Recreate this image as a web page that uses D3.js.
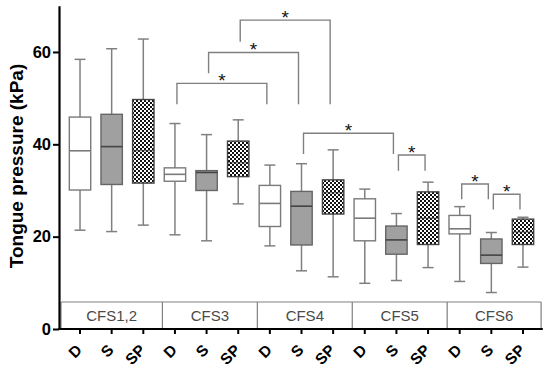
<!DOCTYPE html>
<html>
<head>
<meta charset="utf-8">
<script src="https://cdn.jsdelivr.net/npm/d3@7"></script>
<style>
  body { margin: 0; background: #fff; }
  #chart { width: 550px; height: 368px; }
  text { font-family: Arial, "Liberation Sans", sans-serif; }
</style>
</head>
<body>
<div id="chart"></div>
<script>
// chart values
const groups = ['CFS1,2', 'CFS3', 'CFS4', 'CFS5', 'CFS6'];
const conditions = ['D', 'S', 'SP'];
const yTicks = [0, 20, 40, 60];

// [lower whisker, Q1, median, Q3, upper whisker] in kPa, one row per group
const boxD = [
    [21.4, 30.1, 38.6, 45.9, 58.4],
    [20.4, 32.0, 33.5, 34.9, 44.5],
    [18.0, 22.2, 27.2, 31.1, 35.5],
    [9.9, 19.1, 24.0, 28.2, 30.3],
    [10.3, 20.6, 21.7, 24.6, 26.5]
];
const boxS = [
    [21.1, 31.3, 39.5, 46.5, 60.7],
    [19.1, 30.0, 33.9, 34.3, 42.1],
    [12.6, 18.2, 26.6, 29.8, 35.8],
    [10.5, 16.2, 19.3, 22.3, 25.0],
    [7.9, 14.2, 16.0, 19.5, 20.9]
];
const boxSP = [
    [22.5, 31.6, 38.6, 49.7, 62.8],
    [27.1, 33.0, 36.0, 40.7, 45.3],
    [11.3, 24.9, 29.5, 32.3, 38.8],
    [13.3, 18.3, 24.0, 29.7, 31.8],
    [13.4, 18.3, 21.0, 23.8, 24.2]
];

// significance brackets: bar height and foot heights in kPa
const bracketFrom = ['CFS3 D', 'CFS3 S', 'CFS3 SP', 'CFS4 S', 'CFS5 S', 'CFS6 D', 'CFS6 S'];
const bracketTo   = ['CFS4 D', 'CFS4 S', 'CFS4 SP', 'CFS5 S', 'CFS5 SP', 'CFS6 S', 'CFS6 SP'];
const bracketTop  = [53.2, 59.9, 66.9, 42.4, 37.7, 31.4, 29.2];
const bracketFootL = [48.7, 55.4, 62.2, 37.9, 34.3, 28.1, 25.9];
const bracketFootR = [48.7, 48.7, 48.7, 37.9, 34.3, 28.1, 25.9];

// building rows for the boxes
const seriesByCond = {D: boxD, S: boxS, SP: boxSP};
const rows = [];
groups.forEach((g, gi) => {
    conditions.forEach(c => {
        const v = seriesByCond[c][gi];
        rows.push({key: g + ' ' + c, group: g, cond: c,
            lo: v[0], q1: v[1], med: v[2], q3: v[3], hi: v[4]});
    });
});

const brackets = bracketFrom.map((f, i) => ({
    from: f, to: bracketTo[i], top: bracketTop[i],
    footL: bracketFootL[i], footR: bracketFootR[i]
}));

function BoxChart(_) {

    const root = _;
    const W = 550, H = 368;
    const axisX0 = 59;

    function exports(data) {

        const svg = d3.select(root).append('svg')
            .attr('width', W)
            .attr('height', H);

        // checker pattern for SP
        const pat = svg.append('defs').append('pattern')
            .attr('id', 'checker')
            .attr('patternUnits', 'userSpaceOnUse')
            .attr('width', 4).attr('height', 4);
        pat.append('rect').attr('width', 4).attr('height', 4).attr('fill', '#fff');
        pat.append('rect').attr('width', 2).attr('height', 2).attr('fill', '#111');
        pat.append('rect').attr('x', 2).attr('y', 2).attr('width', 2).attr('height', 2).attr('fill', '#111');

        // scales
        const scaleX = d3.scaleBand()
            .domain(data.map(d => d.key))
            .range([64.2, 538.8])
            .padding(0);
        const scaleY = d3.scaleLinear()
            .domain([0, 70])
            .range([329, 5.8]);

        const bw = scaleX.bandwidth();
        const boxW = 21.4;
        const capW = 11;
        const cx = k => scaleX(k) + bw / 2;

        // category table under the boxes
        const table = svg.append('g').attr('class', 'table');
        const tableTop = scaleY(5.85);
        const edges = groups.map((g, i) => i === 0 ? axisX0 + 2 : scaleX(g + ' D') + 3.3);
        edges.push(scaleX.range()[1] + 2.3);
        table.append('line')
            .attr('x1', edges[0]).attr('x2', edges[edges.length - 1])
            .attr('y1', tableTop).attr('y2', tableTop)
            .attr('stroke', '#808080').attr('stroke-width', 1.2);
        table.selectAll('.div')
            .data(edges)
            .enter().append('line')
            .attr('class', 'div')
            .attr('x1', d => d).attr('x2', d => d)
            .attr('y1', tableTop).attr('y2', scaleY(0))
            .attr('stroke', '#808080').attr('stroke-width', 1.2);
        table.selectAll('.lab')
            .data(groups)
            .enter().append('text')
            .attr('class', 'lab')
            .attr('x', (d, i) => (edges[i] + edges[i + 1]) / 2)
            .attr('y', (tableTop + scaleY(0)) / 2 + 5.5)
            .attr('text-anchor', 'middle')
            .attr('fill', '#4a4a4a')
            .style('font-size', '15px')
            .text(d => d);

        // boxes
        const fillFor = c => c === 'D' ? '#fff' : (c === 'S' ? '#a0a0a0' : 'url(#checker)');
        const strokeFor = c => c === 'D' ? '#7a7a7a' : (c === 'S' ? '#666' : '#444');

        const box = svg.append('g').attr('class', 'boxes')
            .selectAll('g')
            .data(data)
            .enter().append('g');

        box.append('line')
            .attr('x1', d => cx(d.key)).attr('x2', d => cx(d.key))
            .attr('y1', d => scaleY(d.hi)).attr('y2', d => scaleY(d.lo))
            .attr('stroke', '#808080').attr('stroke-width', 1.5);
        box.selectAll('.cap')
            .data(d => [d.hi, d.lo].map(v => ({k: d.key, v: v})))
            .enter().append('line')
            .attr('class', 'cap')
            .attr('x1', d => cx(d.k) - capW / 2).attr('x2', d => cx(d.k) + capW / 2)
            .attr('y1', d => scaleY(d.v)).attr('y2', d => scaleY(d.v))
            .attr('stroke', '#808080').attr('stroke-width', 1.5);
        box.append('rect')
            .attr('x', d => cx(d.key) - boxW / 2)
            .attr('width', boxW)
            .attr('y', d => scaleY(d.q3))
            .attr('height', d => scaleY(d.q1) - scaleY(d.q3))
            .attr('fill', d => fillFor(d.cond))
            .attr('stroke', d => strokeFor(d.cond))
            .attr('stroke-width', 1.4);
        // medians (SP medians are thin so they sink into the checker fill)
        box.append('line')
            .attr('x1', d => cx(d.key) - boxW / 2).attr('x2', d => cx(d.key) + boxW / 2)
            .attr('y1', d => scaleY(d.med)).attr('y2', d => scaleY(d.med))
            .attr('stroke', d => d.cond === 'D' ? '#7a7a7a' : (d.cond === 'S' ? '#444' : '#333'))
            .attr('stroke-width', d => d.cond === 'SP' ? 0.8 : 1.6);

        // significance brackets
        const br = svg.append('g').attr('class', 'brackets')
            .selectAll('g')
            .data(brackets)
            .enter().append('g');
        br.append('path')
            .attr('d', d => {
                const x1 = cx(d.from) + 2, x2 = cx(d.to) - 3;
                return `M${x1},${scaleY(d.footL)}V${scaleY(d.top)}H${x2}V${scaleY(d.footR)}`;
            })
            .attr('fill', 'none')
            .attr('stroke', '#808080')
            .attr('stroke-width', 1.4);
        br.append('text')
            .attr('x', d => (cx(d.from) + cx(d.to)) / 2 - 0.5)
            .attr('y', d => scaleY(d.top) + 4)
            .attr('text-anchor', 'middle')
            .style('font-size', '19px')
            .attr('fill', '#111')
            .text('*');

        // y axis
        const axisY = d3.axisLeft(scaleY)
            .tickValues(yTicks)
            .tickSize(6)
            .tickPadding(2)
            .tickSizeOuter(0);
        const gy = svg.append('g')
            .attr('transform', `translate(${axisX0},0)`)
            .call(axisY);
        gy.select('.domain').attr('stroke', '#000').attr('stroke-width', 2.2);
        gy.selectAll('.tick line').attr('stroke', '#000').attr('stroke-width', 2);
        gy.selectAll('.tick text')
            .attr('fill', '#000')
            .style('font-size', '16.5px')
            .style('font-weight', 'bold');

        // x axis
        const axisXb = d3.axisBottom(scaleX)
            .tickSize(5)
            .tickSizeOuter(0)
            .tickFormat(k => k.split(' ')[1]);
        const gx = svg.append('g')
            .attr('transform', `translate(0,${scaleY(0)})`)
            .call(axisXb);
        gx.select('.domain')
            .attr('d', `M${axisX0 - 1},0H${scaleX.range()[1] + 4}`)
            .attr('stroke', '#000').attr('stroke-width', 2.2);
        gx.selectAll('.tick line').attr('stroke', '#000').attr('stroke-width', 2);
        gx.selectAll('.tick text')
            .attr('fill', '#000')
            .attr('x', 0).attr('y', 0).attr('dy', 0)
            .attr('text-anchor', 'end')
            .attr('transform', 'translate(3,22) rotate(-45)')
            .style('font-size', '15.5px')
            .style('font-weight', 'bold');

        // y axis title
        svg.append('text')
            .attr('transform', `translate(23,${scaleY(35.3)}) rotate(-90)`)
            .attr('text-anchor', 'middle')
            .style('font-size', '19px')
            .style('font-weight', 'bold')
            .attr('fill', '#000')
            .text('Tongue pressure (kPa)');
    }

    return exports;
}

const chart = BoxChart(document.getElementById('chart'));
chart(rows);
</script>
</body>
</html>
